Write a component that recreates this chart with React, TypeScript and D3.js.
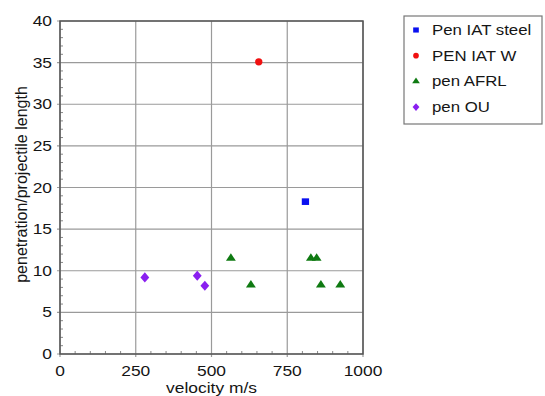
import React from 'react';
import * as d3 from 'd3';

// series
const penIatSteel = [{ v: 810, p: 18.3 }];
const penIatW = [{ v: 656, p: 35.1 }];
const penAfrl = [
  { v: 564, p: 11.5 },
  { v: 630, p: 8.3 },
  { v: 828, p: 11.5 },
  { v: 847, p: 11.5 },
  { v: 861, p: 8.3 },
  { v: 925, p: 8.3 },
];
const penOu = [
  { v: 280, p: 9.2 },
  { v: 453, p: 9.4 },
  { v: 478, p: 8.2 },
];

const xTicks = [0, 250, 500, 750, 1000];
const yTicks = [0, 5, 10, 15, 20, 25, 30, 35, 40];

const seriesList = [
  { name: 'Pen IAT steel', data: penIatSteel, color: '#0a10f0', symbol: d3.symbolSquare, size: 44, sx: 1.1 },
  { name: 'PEN IAT W', data: penIatW, color: '#f01010', symbol: d3.symbolCircle, size: 42, sx: 1 },
  { name: 'pen AFRL', data: penAfrl, color: '#0f7a12', symbol: d3.symbolTriangle, size: 32, sx: 1.15 },
  { name: 'pen OU', data: penOu, color: '#8a1ff0', symbol: d3.symbolDiamond, size: 30, sx: 1.5 },
];

const font = '"Liberation Sans", Arial, Helvetica, sans-serif';
const stretch = 1.2; // the picture is a bit wider than tall

export default function App() {
  const width = 545;
  const height = 396;
  const left = 60, right = 363, top = 21, bottom = 354;

  const x = d3.scaleLinear().domain([0, 1000]).range([left, right]);
  const y = d3.scaleLinear().domain([0, 40]).range([bottom, top]);

  const xMinor = d3.range(0, 1001, 50).filter(d => d % 250 !== 0);
  const yMinor = d3.range(0, 41, 1).filter(d => d % 5 !== 0);

  const txt = (tx: number, ty: number, size: number, anchor: string, s: string, key?: any) => (
    <text key={key} transform={`translate(${tx},${ty}) scale(${stretch},1)`} fontSize={size}
      textAnchor={anchor} fill="#151515" fontFamily={font}>{s}</text>
  );

  return (
    <svg width={width} height={height} style={{ position: 'absolute', left: 0, top: 0, background: '#fff' }}>
      {/* grid */}
      {xTicks.map(t => (
        <line key={'gx' + t} x1={x(t)} x2={x(t)} y1={top} y2={bottom + 3} stroke="#9a9a9a" strokeWidth={1.2} />
      ))}
      {yTicks.map(t => (
        <line key={'gy' + t} x1={left - 3} x2={right} y1={y(t)} y2={y(t)} stroke="#9a9a9a" strokeWidth={1.2} />
      ))}
      {/* minor ticks */}
      {xMinor.map(t => (
        <line key={'mx' + t} x1={x(t)} x2={x(t)} y1={bottom} y2={bottom - 3} stroke="#888" />
      ))}
      {yMinor.map(t => (
        <line key={'my' + t} x1={left} x2={left + 3} y1={y(t)} y2={y(t)} stroke="#888" />
      ))}
      {/* frame */}
      <rect x={left} y={top} width={right - left} height={bottom - top} fill="none" stroke="#555" strokeWidth={1.5} />

      {/* tick labels */}
      {xTicks.map(t => txt(x(t), bottom + 22, 14.5, 'middle', String(t), 'tx' + t))}
      {yTicks.map(t => txt(left - 8, y(t) + 5, 14.5, 'end', String(t), 'ty' + t))}

      {/* axis titles */}
      {txt((left + right) / 2, 393, 14.5, 'middle', 'velocity m/s')}
      <text transform={`translate(27,${(top + bottom) / 2 - 3}) rotate(-90)`} fontSize={16} textAnchor="middle"
        fill="#151515" fontFamily={font}>penetration/projectile length</text>

      {/* points */}
      {seriesList.map(s => (
        <g key={s.name}>
          {s.data.map((d, i) => (
            <path key={i} d={d3.symbol().type(s.symbol).size(s.size)() || ''}
              transform={`translate(${x(d.v)},${y(d.p)}) scale(${s.sx},1)`} fill={s.color} />
          ))}
        </g>
      ))}

      {/* legend */}
      <rect x={404} y={16} width={138} height={108} fill="#fff" stroke="#777" strokeWidth={1.2} />
      {seriesList.map((s, i) => (
        <g key={'lg' + s.name}>
          <path d={d3.symbol().type(s.symbol).size(s.size * 0.6)() || ''}
            transform={`translate(416,${30 + i * 25.7}) scale(${s.sx},1)`} fill={s.color} />
          {txt(432, 30 + i * 25.7 + 5, 14, 'start', s.name)}
        </g>
      ))}
    </svg>
  );
}
